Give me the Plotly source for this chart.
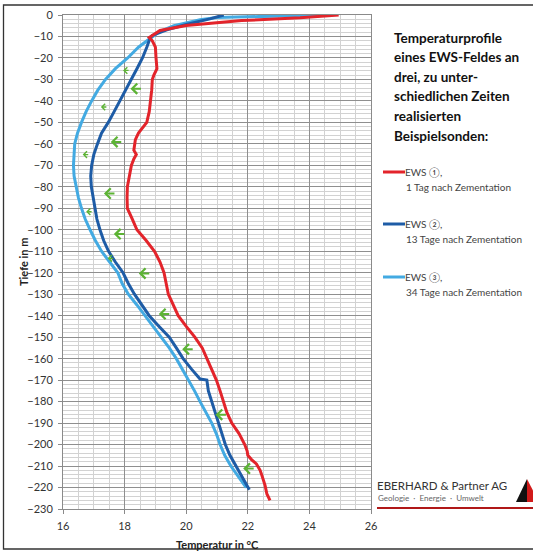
import plotly.graph_objects as go

# ---------------- data ----------------
red_depth = [0, -0.5, -1.3, -2.6, -4.9, -7.2, -9.5, -10.5, -12, -15, -20, -25, -28, -30, -35, -40, -45, -50,
             -53, -55, -58, -60, -63, -65, -67, -70, -75, -80, -85, -90, -95, -100, -105, -110, -115, -120,
             -125, -130, -135, -140, -145, -150, -155, -160, -165, -170, -175, -180, -185, -190, -195, -200,
             -203, -205, -207, -209, -212, -214, -216, -219, -223, -226]
red_temp = [24.95, 24.5, 23.7, 21.8, 20.0, 19.15, 18.9, 18.8, 18.9, 19.0, 19.02, 19.05, 18.95, 18.9, 18.88,
            18.83, 18.8, 18.72, 18.55, 18.45, 18.35, 18.33, 18.3, 18.38, 18.3, 18.22, 18.15, 18.09, 18.08,
            18.09, 18.25, 18.4, 18.7, 18.97, 19.15, 19.28, 19.35, 19.42, 19.58, 19.74, 20.0, 20.28, 20.52,
            20.67, 20.83, 20.98, 21.1, 21.2, 21.32, 21.48, 21.72, 21.9, 21.98, 22.0, 22.12, 22.28, 22.4,
            22.45, 22.5, 22.56, 22.62, 22.72]

dblue_depth = [0, -0.5, -1.8, -4.4, -6.9, -9.5, -11, -15, -20, -25, -30, -35, -40, -45, -50, -55, -60, -65,
               -70, -75, -80, -85, -90, -95, -100, -105, -110, -115, -120, -125, -130, -135, -140, -145,
               -150, -155, -160, -165, -169.5, -170, -175, -180, -185, -190, -195, -200, -205, -210, -215,
               -219, -221]
dblue_temp = [21.22, 21.1, 20.77, 20.0, 19.37, 18.9, 18.82, 18.72, 18.58, 18.4, 18.22, 18.03, 17.85, 17.66,
              17.47, 17.25, 17.12, 17.0, 16.93, 16.9, 16.92, 16.98, 17.04, 17.1, 17.2, 17.32, 17.48, 17.7,
              17.95, 18.12, 18.32, 18.55, 18.8, 19.12, 19.45, 19.68, 19.9, 20.18, 20.45, 20.67, 20.72,
              20.83, 20.94, 21.05, 21.18, 21.27, 21.42, 21.62, 21.82, 21.98, 22.05]

lblue_depth = [0, -0.3, -0.6, -1.2, -2.2, -3.5, -5, -8, -10, -12, -15, -20, -25, -30, -35, -40, -45, -50,
               -55, -60, -65, -70, -75, -80, -85, -90, -95, -100, -105, -110, -115, -120, -125, -130, -135,
               -140, -145, -150, -155, -160, -165, -170, -175, -180, -185, -190, -195, -200, -205, -210,
               -215, -220]
lblue_temp = [24.25, 23.2, 22.0, 21.0, 20.45, 20.0, 19.6, 19.1, 18.92, 18.75, 18.45, 18.1, 17.7, 17.38,
              17.13, 16.93, 16.75, 16.6, 16.47, 16.38, 16.35, 16.34, 16.36, 16.42, 16.5, 16.6, 16.72, 16.88,
              17.05, 17.25, 17.5, 17.78, 17.92, 18.12, 18.4, 18.66, 18.94, 19.2, 19.45, 19.68, 19.88, 20.07,
              20.27, 20.45, 20.65, 20.83, 20.98, 21.1, 21.25, 21.45, 21.7, 21.95]

series_names = ["EWS \u2460,", "EWS \u2461,", "EWS \u2462,"]
series_sub = ["1 Tag nach Zementation", "13 Tage nach Zementation", "34 Tage nach Zementation"]

# green arrows (tip position) : temperature, depth, big/small
arrow_temp = [17.95, 18.19, 17.23, 17.55, 16.64, 17.33, 16.75, 17.65, 17.45, 18.46, 19.11, 19.87, 20.95, 21.85]
arrow_depth = [-25.8, -34.3, -42.8, -59.1, -65.0, -83.1, -91.6, -102.0, -113.3, -120.3, -139.2, -155.6, -186.1, -211.2]
arrow_big = [0, 1, 0, 1, 0, 1, 0, 1, 0, 1, 1, 1, 1, 1]

x_ticks = [16, 18, 20, 22, 24, 26]
y_ticks = list(range(-230, 1, 10))

title_lines = ["Temperaturprofile", "eines EWS-Feldes an", "drei, zu unter-",
               "schiedlichen Zeiten", "realisierten", "Beispielsonden:"]

# ---------------- styling ----------------
W, H = 533, 554
ML, MR, MT, MB = 63, 162, 15, 45
PW, PH = W - ML - MR, H - MT - MB
FONT = "Lato, 'Open Sans', sans-serif"
C_RED, C_DB, C_LB = "#e3242b", "#1e5ca6", "#43aae2"
C_GREEN = "#5cb334"


def pxx(x):
    return (x - ML) / PW


def pxy(y):
    return (MT + PH - y) / PH


fig = go.Figure()
for d, t, c in [(lblue_depth, lblue_temp, C_LB), (dblue_depth, dblue_temp, C_DB), (red_depth, red_temp, C_RED)]:
    fig.add_trace(go.Scatter(x=t, y=d, mode="lines", line=dict(color=c, width=3), showlegend=False,
                             hoverinfo="skip"))

ann = []
shapes = []

# arrows
for t, d, big in zip(arrow_temp, arrow_depth, arrow_big):
    ann.append(dict(x=t, y=d, xref="x", yref="y", ax=12 if big else 7, ay=0, text="", showarrow=True,
                    arrowhead=4, arrowsize=1.0 if big else 0.9, arrowwidth=2.0 if big else 1.4,
                    arrowcolor=C_GREEN, standoff=0))

# title block
for i, line in enumerate(title_lines):
    ann.append(dict(x=pxx(392), y=pxy(38 + i * 19.5), xref="paper", yref="paper", xanchor="left",
                    yanchor="middle", showarrow=False, text="<b>%s</b>" % line,
                    font=dict(family=FONT, size=13.5, color="#111")))

# custom legend
leg_y = [172, 224, 277]
for yy, nm, sub, c in zip(leg_y, series_names, series_sub, [C_RED, C_DB, C_LB]):
    shapes.append(dict(type="line", xref="paper", yref="paper", x0=pxx(383), x1=pxx(405), y0=pxy(yy),
                       y1=pxy(yy), line=dict(color=c, width=3)))
    ann.append(dict(x=pxx(403), y=pxy(yy), xref="paper", yref="paper", xanchor="left", yanchor="middle",
                    showarrow=False, text=nm, font=dict(family=FONT, size=10, color="#444")))
    ann.append(dict(x=pxx(404), y=pxy(yy + 15), xref="paper", yref="paper", xanchor="left",
                    yanchor="middle", showarrow=False, text=sub, font=dict(family=FONT, size=10, color="#444")))

# logo
ann.append(dict(x=pxx(375), y=pxy(485), xref="paper", yref="paper", xanchor="left", yanchor="middle",
                showarrow=False, text="EBERHARD &amp; Partner AG", font=dict(family=FONT, size=11.5, color="#333")))
ann.append(dict(x=pxx(376), y=pxy(498), xref="paper", yref="paper", xanchor="left", yanchor="middle",
                showarrow=False, text="Geologie  \u00b7  Energie  \u00b7  Umwelt",
                font=dict(family=FONT, size=8, color="#666")))
shapes.append(dict(type="line", xref="paper", yref="paper", x0=pxx(377), x1=pxx(540), y0=pxy(508),
                   y1=pxy(508), line=dict(color="#b01818", width=2)))
shapes.append(dict(type="path", xref="paper", yref="paper",
                   path="M %f %f L %f %f L %f %f Z" % (pxx(516), pxy(502), pxx(527), pxy(479), pxx(527), pxy(502)),
                   fillcolor="#111", line=dict(width=0)))
shapes.append(dict(type="path", xref="paper", yref="paper",
                   path="M %f %f L %f %f L %f %f Z" % (pxx(527), pxy(479), pxx(539), pxy(502), pxx(527), pxy(502)),
                   fillcolor="#d11a1a", line=dict(width=0)))

# outer frame
shapes.append(dict(type="rect", xref="paper", yref="paper", x0=pxx(3.5), x1=pxx(545), y0=pxy(549),
                   y1=pxy(5), line=dict(color="#333", width=1.3), layer="below"))

# axis titles
ann.append(dict(x=pxx(217), y=pxy(544), xref="paper", yref="paper", xanchor="center", yanchor="middle",
                showarrow=False, text="<b>Temperatur in °C</b>", font=dict(family=FONT, size=11, color="#222")))
ann.append(dict(x=pxx(23), y=pxy(262), xref="paper", yref="paper", xanchor="center", yanchor="middle",
                textangle=-90, showarrow=False, text="<b>Tiefe in m</b>",
                font=dict(family=FONT, size=11, color="#222")))

axis_common = dict(showline=True, linecolor="#8a8a8a", linewidth=1, mirror=True, gridcolor="#8f8f8f",
                   gridwidth=1, zeroline=False, ticks="outside", ticklen=4, tickcolor="#8a8a8a",
                   tickfont=dict(family=FONT, size=11, color="#333"), fixedrange=True)

fig.update_layout(
    width=W, height=H, margin=dict(l=ML, r=MR, t=MT, b=MB, autoexpand=False),
    paper_bgcolor="white", plot_bgcolor="white",
    xaxis=dict(range=[16, 26], tickvals=x_ticks, ticklabelstandoff=3,
               minor=dict(dtick=0.5, tick0=16, showgrid=True, gridcolor="#d2d2d2", gridwidth=1), **axis_common),
    yaxis=dict(range=[-230, 0], tickvals=y_ticks, ticklabelstandoff=3,
               minor=dict(dtick=2, tick0=0, showgrid=True, gridcolor="#d2d2d2", gridwidth=1), **axis_common),
    annotations=ann, shapes=shapes, showlegend=False,
)

fig.write_html("out.html", config={"displayModeBar": False},
               post_script="document.body.style.margin='0';document.body.style.overflow='hidden';")
